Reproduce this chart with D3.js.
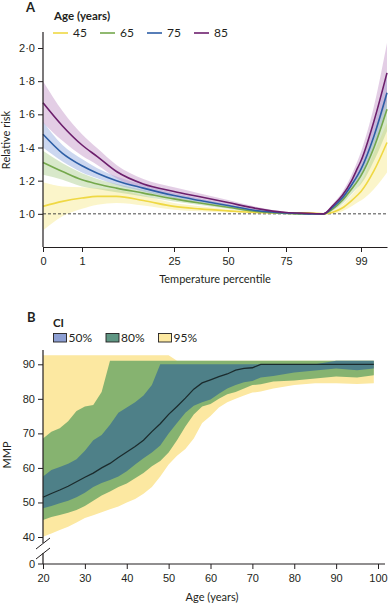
<!DOCTYPE html>
<html>
<head>
<meta charset="utf-8">
<script src="https://cdn.jsdelivr.net/npm/d3@7"></script>
<style>
  body { margin: 0; background: #fff; }
  svg { display: block; font-family: "Lato", "Noto Sans", sans-serif; }
  .tick text { font-size: 11px; fill: #231f20; }
  .tick line, .domain { stroke: #231f20; }
</style>
</head>
<body>
<svg id="chart" width="390" height="605"></svg>
<script>
// ---- panel A data: relative risk by temperature percentile ----
const pct = [0, 0.5, 1, 5, 10, 17, 25, 37, 50, 62, 75, 82, 87, 90, 93, 96, 98, 99, 99.5, 100];
const pctTicks = [0, 1, 25, 50, 75, 99];
const rrTicks = [1.0, 1.2, 1.4, 1.6, 1.8, 2.0];
const ageGroups = ["45", "65", "75", "85"];

const rr45 = [1.045, 1.075, 1.095, 1.105, 1.105, 1.08, 1.045, 1.03, 1.018, 1.008, 1.005, 1.006, 1.0, 1.01, 1.035, 1.08, 1.115, 1.135, 1.26, 1.43];
const rr45Lo = [0.90, 0.985, 1.03, 1.055, 1.065, 1.05, 1.025, 1.015, 1.008, 1.002, 1.0, 1.0, 1.0, 1.0, 1.015, 1.045, 1.07, 1.08, 1.15, 1.25];
const rr45Hi = [1.19, 1.165, 1.16, 1.155, 1.145, 1.11, 1.065, 1.045, 1.028, 1.014, 1.01, 1.012, 1.0, 1.02, 1.055, 1.115, 1.16, 1.19, 1.37, 1.55];

const rr65 = [1.31, 1.255, 1.205, 1.18, 1.155, 1.125, 1.09, 1.065, 1.04, 1.015, 1.003, 1.0, 1.0, 1.03, 1.08, 1.15, 1.2, 1.23, 1.40, 1.63];
const rr65Lo = [1.235, 1.205, 1.165, 1.15, 1.13, 1.105, 1.075, 1.053, 1.03, 1.008, 1.0, 1.0, 1.0, 1.02, 1.06, 1.12, 1.16, 1.18, 1.32, 1.5];
const rr65Hi = [1.38, 1.305, 1.245, 1.21, 1.18, 1.145, 1.105, 1.077, 1.05, 1.022, 1.006, 1.002, 1.0, 1.04, 1.1, 1.18, 1.24, 1.28, 1.48, 1.75];

const rr75 = [1.48, 1.365, 1.29, 1.245, 1.20, 1.155, 1.11, 1.08, 1.05, 1.02, 1.005, 1.0, 1.0, 1.04, 1.095, 1.175, 1.235, 1.27, 1.47, 1.73];
const rr75Lo = [1.40, 1.315, 1.25, 1.215, 1.175, 1.135, 1.095, 1.068, 1.04, 1.013, 1.001, 1.0, 1.0, 1.03, 1.075, 1.15, 1.2, 1.23, 1.4, 1.63];
const rr75Hi = [1.555, 1.415, 1.33, 1.275, 1.225, 1.175, 1.125, 1.092, 1.06, 1.027, 1.009, 1.002, 1.0, 1.05, 1.115, 1.2, 1.27, 1.31, 1.54, 1.83];

const rr85 = [1.67, 1.53, 1.415, 1.345, 1.255, 1.18, 1.135, 1.103, 1.068, 1.033, 1.008, 1.003, 1.0, 1.05, 1.11, 1.2, 1.28, 1.32, 1.56, 1.85];
const rr85Lo = [1.55, 1.44, 1.35, 1.295, 1.215, 1.15, 1.11, 1.083, 1.053, 1.022, 1.003, 1.0, 1.0, 1.04, 1.09, 1.165, 1.235, 1.265, 1.47, 1.68];
const rr85Hi = [1.80, 1.62, 1.48, 1.395, 1.295, 1.21, 1.16, 1.123, 1.083, 1.043, 1.013, 1.006, 1.0, 1.06, 1.13, 1.235, 1.325, 1.375, 1.65, 2.03];

// ---- panel B data: minimum mortality percentile by age ----
const ages = [20, 22, 24, 26, 28, 30, 32, 34, 36, 38, 40, 42, 44, 46, 48, 50, 52, 54, 56, 58, 60, 62, 64, 66, 68, 70, 72, 75, 80, 85, 90, 95, 99];
const mmp = [51.5, 52.6, 53.6, 54.7, 56.0, 57.3, 58.5, 60.0, 61.3, 63.0, 64.6, 66.2, 68.0, 70.5, 72.8, 75.5, 77.8, 80.2, 82.8, 84.6, 85.5, 86.4, 87.2, 88.3, 88.8, 89.0, 90, 90, 90, 90, 90, 90, 90];
const lo50 = [48.3, 49.0, 49.8, 50.5, 51.5, 52.8, 54.5, 55.6, 56.5, 57.5, 59.0, 61.0, 62.8, 64.5, 66.5, 70.0, 73.0, 76.0, 78.0, 79.0, 79.8, 81.5, 83.0, 84.0, 84.8, 85.2, 86.2, 86.6, 87.6, 88.2, 88.8, 88.3, 88.8];
const hi50 = [57.5, 59.4, 60.3, 61.2, 62.5, 65.0, 68.0, 69.5, 72.5, 76.0, 77.5, 79.0, 81.0, 84.0, 90, 90, 90, 90, 90, 90, 90, 90, 90, 90, 90, 90, 90, 90, 90, 90, 91, 91, 91];
const lo80 = [44.9, 45.8, 46.4, 47.0, 47.8, 49.0, 50.5, 52.0, 53.2, 54.5, 55.5, 57.0, 58.5, 60.5, 62.0, 64.5, 68.0, 72.0, 75.5, 77.8, 78.5, 80.0, 81.3, 82.0, 83.0, 84.0, 84.2, 85.0, 85.3, 85.9, 86.5, 86.2, 86.8];
const hi80 = [68.5, 70.5, 71.5, 73.5, 76.5, 77.8, 78.2, 82.0, 91, 91, 91, 91, 91, 91, 91, 91, 91, 91, 91, 91, 91, 91, 91, 91, 91, 91, 91, 91, 91, 91, 91, 91, 91];
const lo95 = [40.1, 41.0, 42.0, 43.0, 44.2, 45.5, 46.3, 47.2, 48.0, 48.8, 50.0, 51.0, 52.5, 54.5, 57.5, 61.0, 63.5, 65.5, 68.5, 73.0, 75.0, 77.5, 79.0, 80.0, 81.0, 81.8, 82.1, 83.0, 84.0, 84.5, 84.5, 84.3, 84.5];
const hi95 = [92.6, 92.6, 92.6, 92.6, 92.6, 92.6, 92.6, 92.6, 92.6, 92.6, 92.6, 92.6, 92.6, 92.6, 92.6, 92.6, 91, 91, 91, 91, 91, 91, 91, 91, 91, 91, 91, 91, 91, 91, 91, 91, 91];
const ageTicks = [20, 30, 40, 50, 60, 70, 80, 90, 100];
const mmpTicks = [0, 40, 50, 60, 70, 80, 90];
const ciLabels = ["50%", "80%", "95%"];

const svg = d3.select("#chart");
const ink = "#231f20";

// ================= panel A =================
const series = [
  { name: ageGroups[0], mid: rr45, lo: rr45Lo, hi: rr45Hi, line: "#efd843", band: "#f6e88a" },
  { name: ageGroups[1], mid: rr65, lo: rr65Lo, hi: rr65Hi, line: "#74a84c", band: "#a9cc8a" },
  { name: ageGroups[2], mid: rr75, lo: rr75Lo, hi: rr75Hi, line: "#2d5ea6", band: "#8fa6dd" },
  { name: ageGroups[3], mid: rr85, lo: rr85Lo, hi: rr85Hi, line: "#6c1f6c", band: "#c293c6" }
];

// percentile axis is stretched like the temperature distribution
const xA = d3.scaleLinear()
  .domain([0, 1, 25, 50, 75, 99, 100])
  .range([43, 82, 174, 228, 286, 361, 387]);
const yA = d3.scaleLinear().domain([0.8, 2.0]).range([247, 48]);

const gA = svg.append("g");

series.forEach(s => {
  const area = d3.area()
    .x((d, i) => xA(pct[i]))
    .y0((d, i) => yA(s.lo[i]))
    .y1((d, i) => yA(s.hi[i]))
    .curve(d3.curveMonotoneX);
  gA.append("path")
    .attr("d", area(pct))
    .attr("fill", s.band)
    .attr("fill-opacity", 0.45);
});

gA.append("line")
  .attr("x1", xA(0)).attr("x2", xA(100))
  .attr("y1", yA(1)).attr("y2", yA(1))
  .attr("stroke", "#333").attr("stroke-width", 0.9)
  .attr("stroke-dasharray", "3,2");

series.forEach(s => {
  const line = d3.line()
    .x((d, i) => xA(pct[i]))
    .y(d => yA(d))
    .curve(d3.curveMonotoneX);
  gA.append("path")
    .attr("d", line(s.mid))
    .attr("fill", "none")
    .attr("stroke", s.line)
    .attr("stroke-width", 1.6);
});

// axes
const yAxisA = d3.axisLeft(yA).tickValues(rrTicks).tickSize(5).tickSizeOuter(0)
  .tickFormat(d => d3.format(".1f")(d).replace(".", "·"));
gA.append("g").attr("transform", "translate(43,0)").call(yAxisA)
  .call(g => g.select(".domain").remove());
gA.append("line").attr("x1", 43).attr("x2", 43).attr("y1", 32).attr("y2", 247)
  .attr("stroke", ink).attr("stroke-width", 1.2);

const xAxisA = d3.axisBottom(xA).tickValues(pctTicks).tickSize(5).tickSizeOuter(0);
gA.append("g").attr("transform", "translate(0,247)").call(xAxisA)
  .call(g => g.select(".domain").attr("stroke-width", 1.2))
  .call(g => g.selectAll(".tick text").attr("dy", "0.9em"));

gA.append("text").attr("x", 215).attr("y", 283).attr("text-anchor", "middle")
  .attr("font-size", 11).attr("fill", ink).text("Temperature percentile");
gA.append("text").attr("transform", "translate(10,140) rotate(-90)")
  .attr("text-anchor", "middle").attr("font-size", 11).attr("fill", ink).text("Relative risk");

gA.append("text").attr("x", 26).attr("y", 12).attr("font-size", 13)
  .attr("font-weight", "bold").attr("fill", ink).text("A");
gA.append("text").attr("x", 54).attr("y", 20).attr("font-size", 11.5)
  .attr("font-weight", "bold").attr("fill", ink).text("Age (years)");

const legA = gA.append("g").attr("transform", "translate(53,33)");
series.forEach((s, i) => {
  const g = legA.append("g").attr("transform", `translate(${i * 47},0)`);
  g.append("line").attr("x1", 0).attr("x2", 15).attr("y1", 0).attr("y2", 0)
    .attr("stroke", s.line).attr("stroke-width", 1.6);
  g.append("text").attr("x", 20).attr("y", 4).attr("font-size", 12)
    .attr("fill", ink).text(s.name);
});

// ================= panel B =================
const xB = d3.scaleLinear().domain([20, 100]).range([43, 378]);
// broken axis: 0 sits just below the 40 line
const yB = d3.scaleLinear().domain([0, 40, 90]).range([563.5, 537, 364.3]);

const gB = svg.append("g");

const bands = [
  { lo: lo95, hi: hi95, fill: "#fce8a1" },
  { lo: lo80, hi: hi80, fill: "#86b370" },
  { lo: lo50, hi: hi50, fill: "#4e8088" }
];
bands.forEach(b => {
  const area = d3.area()
    .x((d, i) => xB(ages[i]))
    .y0((d, i) => yB(b.lo[i]))
    .y1((d, i) => yB(b.hi[i]));
  gB.append("path").attr("d", area(ages)).attr("fill", b.fill);
});

gB.append("path")
  .attr("d", d3.line().x((d, i) => xB(ages[i])).y(d => yB(d))(mmp))
  .attr("fill", "none").attr("stroke", "#1b2b2d").attr("stroke-width", 1.3);

const yAxisB = d3.axisLeft(yB).tickValues(mmpTicks).tickSize(5).tickSizeOuter(0);
gB.append("g").attr("transform", "translate(43,0)").call(yAxisB)
  .call(g => g.select(".domain").remove());
gB.append("line").attr("x1", 43).attr("x2", 43).attr("y1", 350).attr("y2", 543)
  .attr("stroke", ink).attr("stroke-width", 1.2);
gB.append("line").attr("x1", 43).attr("x2", 43).attr("y1", 553).attr("y2", 564)
  .attr("stroke", ink).attr("stroke-width", 1.2);
[0, 10].forEach(dy => {
  gB.append("line").attr("x1", 36).attr("x2", 50)
    .attr("y1", 549 + dy).attr("y2", 538 + dy)
    .attr("stroke", ink).attr("stroke-width", 1);
});

const xAxisB = d3.axisBottom(xB).tickValues(ageTicks).tickSize(5).tickSizeOuter(0);
gB.append("g").attr("transform", "translate(0,564)").call(xAxisB)
  .call(g => g.select(".domain").attr("d", "M43,0H385").attr("stroke-width", 1.2))
  .call(g => g.selectAll(".tick text").attr("dy", "0.9em"));

gB.append("text").attr("x", 212).attr("y", 601).attr("text-anchor", "middle")
  .attr("font-size", 11).attr("fill", ink).text("Age (years)");
gB.append("text").attr("transform", "translate(11,455) rotate(-90)")
  .attr("text-anchor", "middle").attr("font-size", 11).attr("fill", ink).text("MMP");

gB.append("text").attr("x", 27).attr("y", 322).attr("font-size", 13)
  .attr("font-weight", "bold").attr("fill", ink).text("B");
gB.append("text").attr("x", 53).attr("y", 327).attr("font-size", 11.5)
  .attr("font-weight", "bold").attr("fill", ink).text("CI");

const legFills = ["#8d9fd3", "#5f9683", "#fde9a1"];
const legB = gB.append("g").attr("transform", "translate(53,333)");
ciLabels.forEach((lab, i) => {
  const g = legB.append("g").attr("transform", `translate(${i * 52.5},0)`);
  g.append("rect").attr("x", 0.5).attr("y", 0.5).attr("width", 13).attr("height", 8.5)
    .attr("fill", legFills[i]).attr("stroke", ink).attr("stroke-width", 0.9);
  g.append("text").attr("x", 15.5).attr("y", 9).attr("font-size", 12)
    .attr("fill", ink).text(lab);
});
</script>
</body>
</html>
